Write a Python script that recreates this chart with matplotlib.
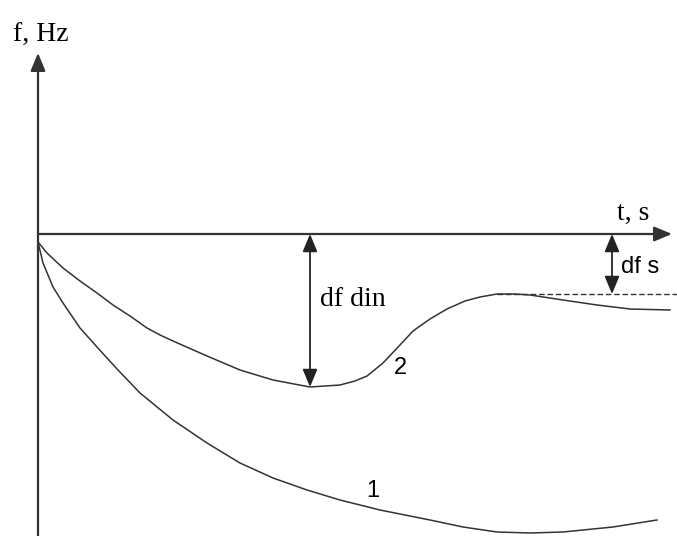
import matplotlib.pyplot as plt

# Frequency deviation curves (t in arbitrary units, f relative to nominal)
t_curve1 = [0, 5, 15, 25, 42, 59, 69, 80, 102, 135, 169, 202, 235, 269, 302,
            342, 392, 425, 459, 492, 525, 575, 619]
f_curve1 = [-8, -29, -53, -69, -94, -113, -124, -136, -159, -186, -209, -229,
            -244, -256, -266, -276, -286, -293, -298, -299, -298, -293, -286]

t_curve2 = [0, 9, 25, 42, 59, 75, 92, 109, 122, 135, 169, 202, 235, 272, 302,
            317, 329, 345, 362, 375, 392, 409, 427, 442, 459, 477, 492, 525,
            559, 592, 632]
f_curve2 = [-8, -19, -34, -47, -59, -71, -82, -94, -101, -107, -122, -136,
            -146, -153, -151, -147, -142, -129, -111, -97, -85, -75, -67, -63,
            -60, -60, -61, -66, -71, -75, -76]

# Steady-state level and dynamic minimum
f_steady = -60
t_steady = 459
t_dyn = 272
f_dyn = -153
t_ss_marker = 574

line_col = '#333333'
serif = 'Liberation Serif'
sans = 'Liberation Sans'

fig = plt.figure(figsize=(6.77, 5.36), dpi=100)
ax = fig.add_axes([0, 0, 1, 1])
ax.set_xlim(-38, 639)
ax.set_ylim(-302, 234)
ax.axis('off')

# axes with arrowheads
axis_arrow = dict(arrowstyle='-|>,head_length=0.6,head_width=0.25',
                  mutation_scale=18, color=line_col, lw=1.6,
                  shrinkA=0, shrinkB=0)
ax.annotate('', xy=(634, 0), xytext=(0, 0), arrowprops=axis_arrow)
ax.annotate('', xy=(0, 181), xytext=(0, -302), arrowprops=axis_arrow)

# curves
ax.plot(t_curve1, f_curve1, color=line_col, lw=1.1, solid_joinstyle='round')
ax.plot(t_curve2, f_curve2, color=line_col, lw=1.1, solid_joinstyle='round')

# steady-state reference
ax.plot([t_steady, 639], [f_steady, f_steady], color=line_col, lw=1.0,
        ls=(0, (4, 2)))

# dimension arrows
dim_arrow = dict(arrowstyle='<|-|>,head_length=0.6,head_width=0.25',
                 mutation_scale=18, color='#222222', lw=1.3,
                 shrinkA=0, shrinkB=0)
ax.annotate('', xy=(t_dyn, f_dyn), xytext=(t_dyn, 0), arrowprops=dim_arrow)
ax.annotate('', xy=(t_ss_marker, f_steady), xytext=(t_ss_marker, 0),
            arrowprops=dim_arrow)

# labels
ax.text(-25, 192, 'f, Hz', family=serif, fontsize=20, color='black')
ax.text(579, 14, 't, s', family=serif, fontsize=20, color='black')
ax.text(282, -72, 'df din', family=serif, fontsize=20, color='black')
ax.text(583, -39, 'df s', family=sans, fontsize=17, color='black')
ax.text(362, -134, '2', family=sans, fontsize=17, color='black',
        ha='center', va='center')
ax.text(335, -257, '1', family=sans, fontsize=17, color='black',
        ha='center', va='center')

fig.savefig('out.png', dpi=100)
